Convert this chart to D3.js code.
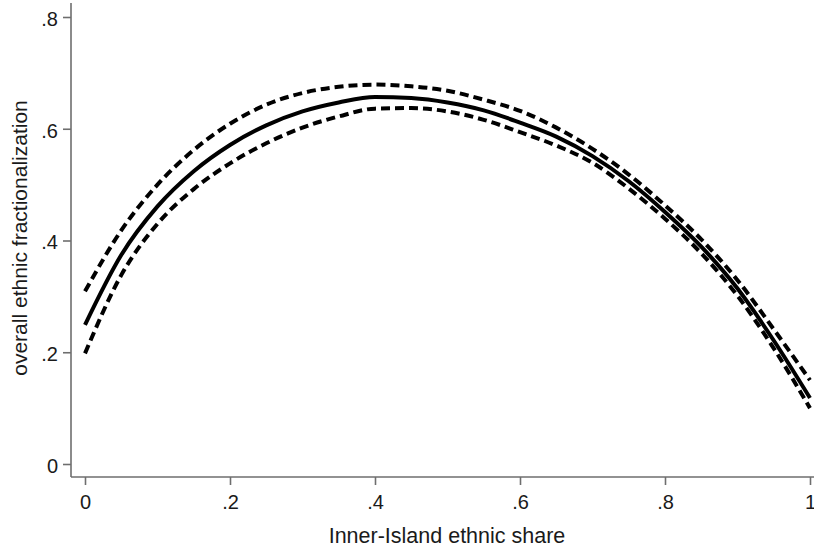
<!DOCTYPE html>
<html>
<head>
<meta charset="utf-8">
<script src="https://cdn.jsdelivr.net/npm/d3@7"></script>
<style>
  html, body { margin: 0; padding: 0; background: #fff; }
  svg { display: block; }
  text { font-family: "Liberation Sans", Arial, sans-serif; fill: #1a1a1a; }
</style>
</head>
<body>
<script>
// Inner-Island ethnic share grid (x values)
const share = [0, .05, .1, .15, .2, .25, .3, .35, .4, .45, .5, .55, .6, .65, .7, .75, .8, .85, .9, .95, 1];
// Fitted overall ethnic fractionalization
const fitted = [.249, .374, .461, .524, .571, .606, .631, .647, .657, .655, .647, .633, .611, .586, .551, .506, .451, .389, .314, .221, .118];
// Upper confidence bound
const upper = [.309, .418, .500, .562, .609, .643, .664, .675, .679, .676, .668, .652, .632, .602, .564, .518, .463, .402, .329, .241, .150];
// Lower confidence bound
const lower = [.198, .338, .430, .492, .538, .574, .602, .622, .636, .637, .631, .616, .594, .570, .539, .493, .439, .377, .301, .207, .100];

const xTicks = [0, .2, .4, .6, .8, 1];
const yTicks = [0, .2, .4, .6, .8];
const xTitle = "Inner-Island ethnic share";
const yTitle = "overall ethnic fractionalization";

const W = 814, H = 550;
const fmt = v => v === 0 ? "0" : v === 1 ? "1" : String(v).replace(/^0/, "");

const svg = d3.select("body").append("svg").attr("width", W).attr("height", H);

const x = d3.scaleLinear().domain([0, 1]).range([85, 810]);
const y = d3.scaleLinear().domain([0, .8]).range([464, 17]);

const axisColor = "#6e6e6e";
const axisX0 = 71, axisY0 = 477;

// Y axis
const gy = svg.append("g").attr("transform", `translate(${axisX0},0)`)
  .call(d3.axisLeft(y).tickValues(yTicks).tickFormat(fmt).tickSize(8).tickPadding(5).tickSizeOuter(0));
gy.select(".domain").remove();
gy.append("line").attr("x1", 0).attr("x2", 0).attr("y1", 3).attr("y2", axisY0)
  .attr("stroke", axisColor).attr("stroke-width", 1.6);
gy.selectAll(".tick line").attr("stroke", axisColor).attr("stroke-width", 1.6);
gy.selectAll(".tick text").style("font-size", "20px").attr("dy", "0.42em")
  .style("fill", "#1a1a1a").attr("font-family", null);

// X axis
const gx = svg.append("g").attr("transform", `translate(0,${axisY0})`)
  .call(d3.axisBottom(x).tickValues(xTicks).tickFormat(fmt).tickSize(8).tickPadding(10).tickSizeOuter(0));
gx.select(".domain").remove();
gx.append("line").attr("x1", axisX0).attr("x2", W).attr("y1", 0).attr("y2", 0)
  .attr("stroke", axisColor).attr("stroke-width", 1.6);
gx.selectAll(".tick line").attr("stroke", axisColor).attr("stroke-width", 1.6);
gx.selectAll(".tick text").style("font-size", "20px")
  .style("fill", "#1a1a1a").attr("font-family", null);

// Axis titles
svg.append("text").attr("x", 447).attr("y", 543).attr("text-anchor", "middle")
  .style("font-size", "21.5px").text(xTitle);
svg.append("text").attr("transform", "translate(27,238) rotate(-90)").attr("text-anchor", "middle")
  .style("font-size", "21px").text(yTitle);

// Curves: confidence bounds dashed, fitted line solid
const line = d3.line().x(d => x(d[0])).y(d => y(d[1])).curve(d3.curveMonotoneX);
const series = [
  { vals: upper, dash: "9,5" },
  { vals: lower, dash: "9,5" },
  { vals: fitted, dash: null }
];
series.forEach(s => {
  svg.append("path")
    .datum(share.map((v, i) => [v, s.vals[i]]))
    .attr("d", line)
    .attr("fill", "none")
    .attr("stroke", "#000")
    .attr("stroke-width", 4)
    .attr("stroke-dasharray", s.dash);
});
</script>
</body>
</html>
